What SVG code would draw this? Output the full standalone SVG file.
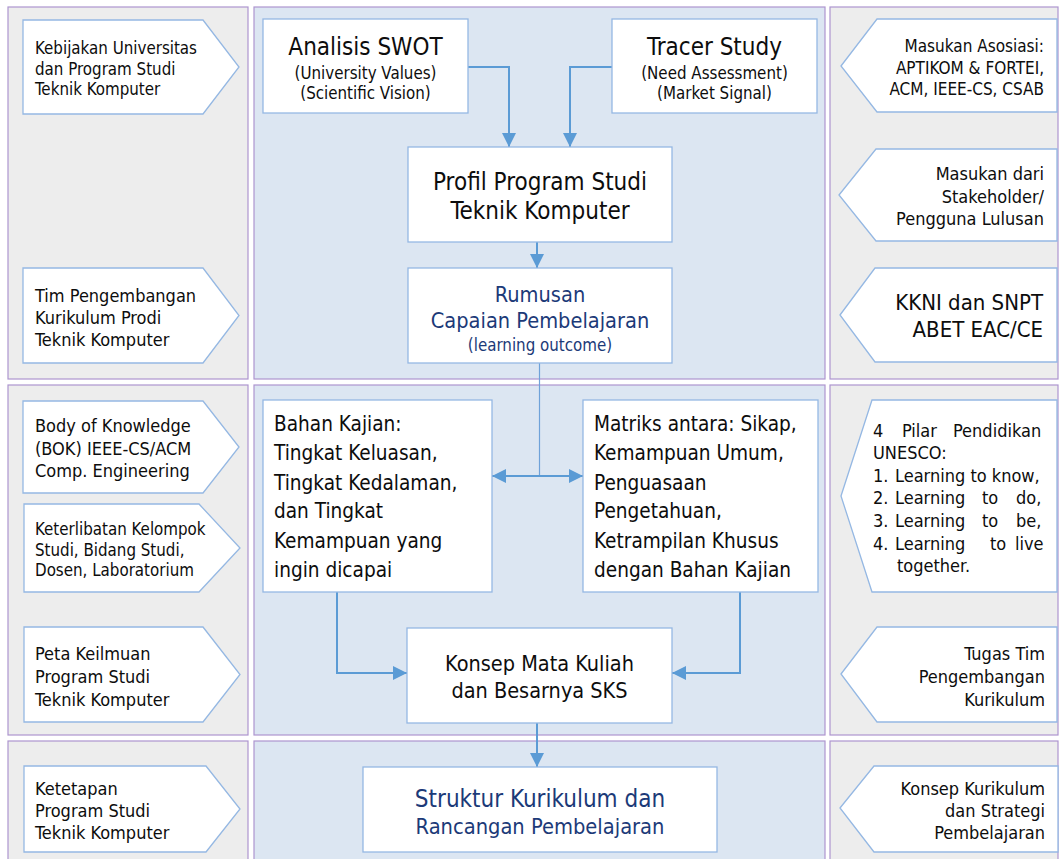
<svg xmlns="http://www.w3.org/2000/svg" width="1059" height="859" viewBox="0 0 1059 859">
<style>
.pg{fill:#ededed;stroke:#ad95cf;stroke-width:1.2}
.pb{fill:#dce6f2;stroke:#ad95cf;stroke-width:1.2}
.box{fill:#fff;stroke:#95b8e3;stroke-width:1.3}
text{font-family:"DejaVu Sans Condensed","DejaVu Sans",sans-serif;font-stretch:condensed;fill:#0d0d0d}
.c{text-anchor:middle}
.e{text-anchor:end}
.nv{fill:#1c3a78}
.conn{stroke:#5b9bd5;stroke-width:2;fill:none}
.thin{stroke:#6fa2d9;stroke-width:1.2;fill:none}
</style>
<defs>
<marker id="ah" markerUnits="userSpaceOnUse" markerWidth="14" markerHeight="14" viewBox="0 0 14 14" refX="14" refY="7" orient="auto-start-reverse">
<path d="M0,0 L14,7 L0,14 z" fill="#5b9bd5"/>
</marker>
</defs>
<g id="panels">
<rect class="pg" x="8" y="7" width="240" height="372"/>
<rect class="pb" x="254" y="7" width="571" height="372"/>
<rect class="pg" x="830" y="7" width="228" height="372"/>
<rect class="pg" x="8" y="385" width="240" height="350"/>
<rect class="pb" x="254" y="385" width="571" height="350"/>
<rect class="pg" x="830" y="385" width="228" height="350"/>
<rect class="pg" x="8" y="741" width="240" height="122"/>
<rect class="pb" x="254" y="741" width="571" height="122"/>
<rect class="pg" x="830" y="741" width="228" height="122"/>
</g>
<g id="connectors">
<path class="conn" d="M468,67 H509 V147" marker-end="url(#ah)"/>
<path class="conn" d="M612,67 H570 V147" marker-end="url(#ah)"/>
<path class="conn" d="M537,242 V268" marker-end="url(#ah)"/>
<path class="thin" d="M539.5,363 V476"/>
<path class="conn" d="M492,476 H583" marker-start="url(#ah)" marker-end="url(#ah)"/>
<path class="conn" d="M337,592 V673 H407" marker-end="url(#ah)"/>
<path class="conn" d="M740,592 V673 H672" marker-end="url(#ah)"/>
<path class="conn" d="M537,723 V767" marker-end="url(#ah)"/>
</g>
<g id="l1"><polygon class="box" points="23,20 203,20 239,67 203,114 23,114"/>
<text font-size="16.8"><tspan x="35" y="54">Kebijakan Universitas</tspan><tspan x="35" y="74.5">dan Program Studi</tspan><tspan x="35" y="95">Teknik Komputer</tspan></text></g>
<g id="l2"><polygon class="box" points="23,268 203,268 239,315.5 203,363 23,363"/>
<text font-size="18"><tspan x="35" y="301.5">Tim Pengembangan</tspan><tspan x="35" y="323.5">Kurikulum Prodi</tspan><tspan x="35" y="346">Teknik Komputer</tspan></text></g>
<g id="l3"><polygon class="box" points="23,401 203,401 239,447 203,493 23,493"/>
<text font-size="18"><tspan x="35" y="431.5">Body of Knowledge</tspan><tspan x="35" y="454.5">(BOK) IEEE-CS/ACM</tspan><tspan x="35" y="476.5">Comp. Engineering</tspan></text></g>
<g id="l4"><polygon class="box" points="24,504 199,504 240,548 199,592 24,592"/>
<text font-size="16.8"><tspan x="35" y="535">Keterlibatan Kelompok</tspan><tspan x="35" y="556">Studi, Bidang Studi,</tspan><tspan x="35" y="576">Dosen, Laboratorium</tspan></text></g>
<g id="l5"><polygon class="box" points="24,627 203,627 240,674.5 203,722 24,722"/>
<text font-size="18"><tspan x="35" y="660">Peta Keilmuan</tspan><tspan x="35" y="682.5">Program Studi</tspan><tspan x="35" y="705.5">Teknik Komputer</tspan></text></g>
<g id="l6"><polygon class="box" points="24,766 206,766 240,809 206,852 24,852"/>
<text font-size="18"><tspan x="35" y="794.5">Ketetapan</tspan><tspan x="35" y="816.5">Program Studi</tspan><tspan x="35" y="839">Teknik Komputer</tspan></text></g>
<g id="r1"><polygon class="box" points="841,66 877,19 1057,19 1057,112 877,112"/>
<text class="e" font-size="17"><tspan x="1044" y="52">Masukan Asosiasi:</tspan><tspan x="1044" y="74">APTIKOM &amp; FORTEI,</tspan><tspan x="1044" y="95">ACM, IEEE-CS, CSAB</tspan></text></g>
<g id="r2"><polygon class="box" points="839,195 876,149 1057,149 1057,241 876,241"/>
<text class="e" font-size="18"><tspan x="1044" y="179.5">Masukan dari</tspan><tspan x="1044" y="202.5">Stakeholder/</tspan><tspan x="1044" y="224.5">Pengguna Lulusan</tspan></text></g>
<g id="r3"><polygon class="box" points="840,315 875,268 1057,268 1057,362 875,362"/>
<text class="e" font-size="22"><tspan x="1043" y="310">KKNI dan SNPT</tspan><tspan x="1043" y="337">ABET EAC/CE</tspan></text></g>
<g id="r4"><polygon class="box" points="841,496 872,400 1057,400 1057,592 872,592"/>
<text font-size="18"><tspan x="873" y="436.5">4</tspan><tspan x="902" y="436.5">Pilar</tspan><tspan x="953" y="436.5">Pendidikan</tspan>
<tspan x="873" y="458.5">UNESCO:</tspan>
<tspan x="873" y="481.5">1.</tspan><tspan x="895" y="481.5">Learning to know,</tspan>
<tspan x="873" y="503.5">2.</tspan><tspan x="895" y="503.5">Learning</tspan><tspan x="982" y="503.5">to</tspan><tspan x="1016" y="503.5">do,</tspan>
<tspan x="873" y="526.5">3.</tspan><tspan x="895" y="526.5">Learning</tspan><tspan x="982" y="526.5">to</tspan><tspan x="1016" y="526.5">be,</tspan>
<tspan x="873" y="549.5">4.</tspan><tspan x="895" y="549.5">Learning</tspan><tspan x="990" y="549.5">to</tspan><tspan x="1015" y="549.5">live</tspan>
<tspan x="897" y="571.5">together.</tspan></text></g>
<g id="r5"><polygon class="box" points="841,674 877,627 1057,627 1057,722 877,722"/>
<text class="e" font-size="18"><tspan x="1045" y="660">Tugas Tim</tspan><tspan x="1045" y="682.5">Pengembangan</tspan><tspan x="1045" y="705.5">Kurikulum</tspan></text></g>
<g id="r6"><polygon class="box" points="840,808 874,766 1058,766 1058,852 874,852"/>
<text class="e" font-size="18"><tspan x="1045" y="794.5">Konsep Kurikulum</tspan><tspan x="1045" y="816.5">dan Strategi</tspan><tspan x="1045" y="838.5">Pembelajaran</tspan></text></g>
<g id="swot"><rect class="box" x="263" y="19" width="205" height="94"/>
<text class="c"><tspan x="365.5" y="55" font-size="24">Analisis SWOT</tspan><tspan x="365.5" y="79" font-size="16.8">(University Values)</tspan><tspan x="365.5" y="99" font-size="16.8">(Scientific Vision)</tspan></text></g>
<g id="tracer"><rect class="box" x="612" y="19" width="205" height="94"/>
<text class="c"><tspan x="714.5" y="55" font-size="24">Tracer Study</tspan><tspan x="714.5" y="79" font-size="16.8">(Need Assessment)</tspan><tspan x="714.5" y="99" font-size="16.8">(Market Signal)</tspan></text></g>
<g id="profil"><rect class="box" x="408" y="147" width="264" height="95"/>
<text class="c" font-size="24"><tspan x="540" y="189.5">Profil Program Studi</tspan><tspan x="540" y="218.5">Teknik Komputer</tspan></text></g>
<g id="rumusan"><rect class="box" x="408" y="268" width="264" height="95"/>
<text class="c nv"><tspan x="540" y="301.5" font-size="21.6">Rumusan</tspan><tspan x="540" y="328" font-size="21.6">Capaian Pembelajaran</tspan><tspan x="540" y="351" font-size="16.8">(learning outcome)</tspan></text></g>
<g id="bahan"><rect class="box" x="263" y="400" width="229" height="192"/>
<text font-size="20.6"><tspan x="274" y="430.5">Bahan Kajian:</tspan><tspan x="274" y="460">Tingkat Keluasan,</tspan><tspan x="274" y="489.5">Tingkat Kedalaman,</tspan><tspan x="274" y="518">dan Tingkat</tspan><tspan x="274" y="547.5">Kemampuan yang</tspan><tspan x="274" y="577">ingin dicapai</tspan></text></g>
<g id="matriks"><rect class="box" x="583" y="400" width="235" height="192"/>
<text font-size="20.6"><tspan x="594" y="430.5">Matriks antara: Sikap,</tspan><tspan x="594" y="460">Kemampuan Umum,</tspan><tspan x="594" y="489.5">Penguasaan</tspan><tspan x="594" y="518">Pengetahuan,</tspan><tspan x="594" y="547.5">Ketrampilan Khusus</tspan><tspan x="594" y="577">dengan Bahan Kajian</tspan></text></g>
<g id="konsep"><rect class="box" x="407" y="628" width="265" height="95"/>
<text class="c" font-size="21.5"><tspan x="539.5" y="670.5">Konsep Mata Kuliah</tspan><tspan x="539.5" y="697.5">dan Besarnya SKS</tspan></text></g>
<g id="struktur"><rect class="box" x="363" y="767" width="354" height="85"/>
<text class="c nv"><tspan x="540" y="806.5" font-size="24">Struktur Kurikulum dan</tspan><tspan x="540" y="834" font-size="21.7">Rancangan Pembelajaran</tspan></text></g>
</svg>
